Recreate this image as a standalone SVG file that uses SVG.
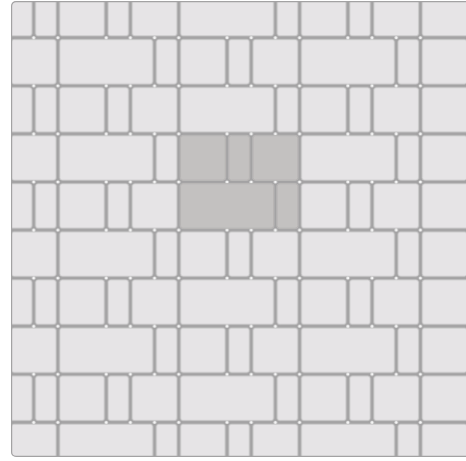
<svg xmlns="http://www.w3.org/2000/svg" width="466" height="461" viewBox="0 0 466 461">
  <style>
    .t { fill: #e6e4e6; stroke: #c6c5c6; stroke-width: 0.8; }
    .h { fill: #c3c1c0; stroke: #b2b0af; stroke-width: 0.8; }
    .d { fill: #ffffff; fill-opacity: 0.9; }
  </style>
  <defs>
    <clipPath id="frame">
      <rect x="11" y="1" width="480" height="456" rx="5" ry="5"/>
    </clipPath>
    <pattern id="pave" patternUnits="userSpaceOnUse" x="33.7" y="-10.38" width="241.7" height="96.16">
      <rect width="241.7" height="96.16" fill="#a3a2a3"/>
      <!-- row A -->
      <rect class="t" x="1.8" y="1.8" width="20.57" height="44.48" rx="2.5"/>
      <rect class="t" x="25.97" y="1.8" width="44.74" height="44.48" rx="2.5"/>
      <rect class="t" x="74.31" y="1.8" width="20.57" height="44.48" rx="2.5"/>
      <rect class="t" x="98.48" y="1.8" width="44.74" height="44.48" rx="2.5"/>
      <rect class="t" x="146.82" y="1.8" width="93.08" height="44.48" rx="2.5"/>
      <rect class="t" x="-94.88" y="1.8" width="93.08" height="44.48" rx="2.5"/>
      <!-- row B -->
      <rect class="t" x="-22.37" y="49.88" width="44.74" height="44.48" rx="2.5"/>
      <rect class="t" x="25.97" y="49.88" width="93.08" height="44.48" rx="2.5"/>
      <rect class="t" x="122.65" y="49.88" width="20.57" height="44.48" rx="2.5"/>
      <rect class="t" x="146.82" y="49.88" width="44.74" height="44.48" rx="2.5"/>
      <rect class="t" x="195.16" y="49.88" width="20.57" height="44.48" rx="2.5"/>
      <rect class="t" x="219.33" y="49.88" width="44.74" height="44.48" rx="2.5"/>
      <!-- junction dots -->
      <g class="d">
        <circle cx="0" cy="0" r="1.6"/><circle cx="241.7" cy="0" r="1.6"/>
        <circle cx="0" cy="96.16" r="1.6"/><circle cx="241.7" cy="96.16" r="1.6"/>
        <circle cx="0" cy="48.08" r="1.6"/><circle cx="241.7" cy="48.08" r="1.6"/>
        <circle cx="24.17" cy="0" r="1.6"/><circle cx="24.17" cy="48.08" r="1.6"/><circle cx="24.17" cy="96.16" r="1.6"/>
        <circle cx="72.51" cy="0" r="1.6"/><circle cx="72.51" cy="48.08" r="1.6"/><circle cx="72.51" cy="96.16" r="1.6"/>
        <circle cx="96.68" cy="0" r="1.6"/><circle cx="96.68" cy="48.08" r="1.6"/><circle cx="96.68" cy="96.16" r="1.6"/>
        <circle cx="145.02" cy="0" r="1.6"/><circle cx="145.02" cy="48.08" r="1.6"/><circle cx="145.02" cy="96.16" r="1.6"/>
        <circle cx="120.85" cy="0" r="1.6"/><circle cx="120.85" cy="48.08" r="1.6"/><circle cx="120.85" cy="96.16" r="1.6"/>
        <circle cx="193.36" cy="0" r="1.6"/><circle cx="193.36" cy="48.08" r="1.6"/><circle cx="193.36" cy="96.16" r="1.6"/>
        <circle cx="217.53" cy="0" r="1.6"/><circle cx="217.53" cy="48.08" r="1.6"/><circle cx="217.53" cy="96.16" r="1.6"/>
      </g>
    </pattern>
  </defs>
  <rect width="466" height="461" fill="#ffffff"/>
  <g id="paving" clip-path="url(#frame)">
    <rect x="0" y="0" width="466" height="461" fill="url(#pave)"/>
    <g id="highlight">
      <rect class="h" x="180.52" y="135.66" width="44.74" height="44.48" rx="2.5"/>
      <rect class="h" x="228.86" y="135.66" width="20.57" height="44.48" rx="2.5"/>
      <rect class="h" x="253.03" y="135.66" width="44.74" height="44.48" rx="2.5"/>
      <rect class="h" x="180.52" y="183.74" width="93.08" height="44.48" rx="2.5"/>
      <rect class="h" x="277.2" y="183.74" width="20.57" height="44.48" rx="2.5"/>
    </g>
    <rect x="11" y="1" width="480" height="456" rx="5" ry="5" fill="none" stroke="#a3a2a3" stroke-width="2.4"/>
  </g>
</svg>
